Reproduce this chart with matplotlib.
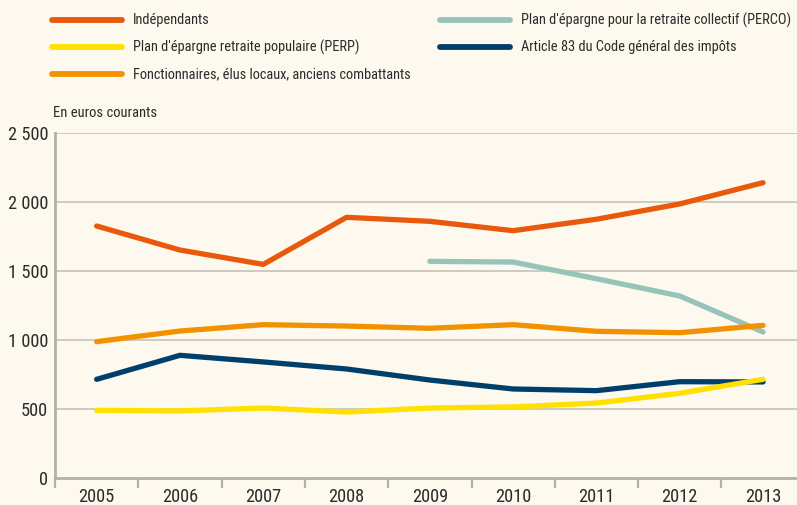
import matplotlib
matplotlib.use("Agg")
import matplotlib.pyplot as plt
from matplotlib import font_manager
from matplotlib.font_manager import FontProperties
from matplotlib.lines import Line2D
import numpy as np

years = ["2005", "2006", "2007", "2008", "2009", "2010", "2011", "2012", "2013"]
independants = [1826, 1652, 1548, 1889, 1860, 1792, 1875, 1986, 2140]
perco = [None, None, None, None, 1570, 1565, 1444, 1319, 1058]
perp = [490, 486, 507, 478, 507, 515, 543, 614, 715]
article83 = [715, 889, 841, 790, 710, 645, 633, 698, 696]
fonctionnaires = [988, 1065, 1111, 1101, 1085, 1111, 1063, 1053, 1106]

yticks = [0, 500, 1000, 1500, 2000, 2500]
ytick_labels = ["0", "500", "1 000", "1 500", "2 000", "2 500"]

# ---- pick a condensed font if one is installed
prefs = ["liberationsansnarrow-regular", "robotocondensed-regular",
         "opensans_condensed-regular", "opensans-condensedregular",
         "notosans-condensed.", "notosans-condensedregular",
         "dejavusanscondensed."]
fpath = None
files = [f.fname for f in font_manager.fontManager.ttflist]
for p in prefs:
    for fn in files:
        base = fn.lower().replace("\\", "/").split("/")[-1]
        if base.startswith(p):
            fpath = fn
            break
    if fpath:
        break
if fpath is None:
    for fn in files:
        base = fn.lower().split("/")[-1]
        if ("narrow" in base or "condensed" in base) and not any(
                k in base for k in ["bold", "italic", "oblique", "light", "semi", "black", "medium", "thin", "extra"]):
            fpath = fn
            break
if fpath:
    FP = FontProperties(fname=fpath)
else:
    FP = FontProperties(family=["Liberation Sans", "DejaVu Sans"])

BG = "#FDF9EE"
GRID = "#CBC7BF"
SPINE = "#B3B0AA"
TXT = "#2B2B2B"

fig = plt.figure(figsize=(7.97, 5.05), dpi=100, facecolor=BG)
W, H = 797, 505

# scale font sizes so widths match the reference
renderer = fig.canvas.get_renderer()
probe = fig.text(0, 0, "Fonctionnaires, élus locaux, anciens combattants",
                 fontproperties=FP, fontsize=11)
pw = probe.get_window_extent(renderer).width
probe.remove()
k = min(280.0 / pw, 1.12)
LEG = 11 * k
TICK = 14 * k
SUB = 11.1 * k

left, bottom = 55 / W, (H - 478) / H
top = (H - 133) / H
ax = fig.add_axes([left, bottom, 1 - left, top - bottom], facecolor=BG)

x = np.arange(len(years))
series = [
    ("Indépendants", independants, "#E8590C"),
    ("Plan d'épargne retraite populaire (PERP)", perp, "#FFE000"),
    ("Fonctionnaires, élus locaux, anciens combattants", fonctionnaires, "#F39200"),
    ("Plan d'épargne pour la retraite collectif (PERCO)", perco, "#96C4BA"),
    ("Article 83 du Code général des impôts", article83, "#003F6B"),
]
draw_order = ["Plan d'épargne pour la retraite collectif (PERCO)", "Indépendants",
              "Fonctionnaires, élus locaux, anciens combattants",
              "Article 83 du Code général des impôts",
              "Plan d'épargne retraite populaire (PERP)"]
lookup = {n: (v, c) for n, v, c in series}
for z, n in enumerate(draw_order):
    v, c = lookup[n]
    vals = np.array([np.nan if e is None else e for e in v], dtype=float)
    ax.plot(x, vals, color=c, lw=3.8, solid_capstyle="round",
            solid_joinstyle="round", zorder=3 + z)

ax.set_ylim(0, 2500)
ax.set_xlim(-0.5, (W - 55) / 83.3 - 0.5)
ax.set_yticks(yticks)
ax.set_yticklabels(ytick_labels)
for yv in yticks[1:]:
    ax.axhline(yv, color=GRID, lw=1.3, zorder=1)
ax.set_xticks(x)
ax.set_xticklabels(years)
ax.set_xticks(np.arange(-0.5, len(years) - 0.5, 1.0), minor=True)
ax.tick_params(axis="x", which="major", length=0, pad=7, labelcolor=TXT)
ax.tick_params(axis="x", which="minor", length=7.5, width=1.6, color=SPINE)
ax.tick_params(axis="y", length=0, pad=5, labelcolor=TXT)
for lab in ax.get_xticklabels() + ax.get_yticklabels():
    lab.set_fontproperties(FP)
    lab.set_fontsize(TICK)
for s in ["top", "right"]:
    ax.spines[s].set_visible(False)
for s in ["left", "bottom"]:
    ax.spines[s].set_color(SPINE)
    ax.spines[s].set_linewidth(2)

fig.text(53 / W, 1 - 113 / H, "En euros courants", fontproperties=FP,
         fontsize=SUB, color=TXT, va="center", ha="left")

# legend
pos = [(52, 20), (52, 47), (52, 74), (440, 20), (440, 47)]
for (n, v, c), (px, py) in zip(series, pos):
    fig.add_artist(Line2D([px / W, (px + 70) / W], [1 - py / H, 1 - py / H],
                          transform=fig.transFigure, color=c, lw=4.2,
                          solid_capstyle="round"))
    fig.text((px + 81) / W, 1 - py / H, n, fontproperties=FP, fontsize=LEG,
             color=TXT, va="center", ha="left")

fig.savefig("out.png", dpi=100, facecolor=BG)
